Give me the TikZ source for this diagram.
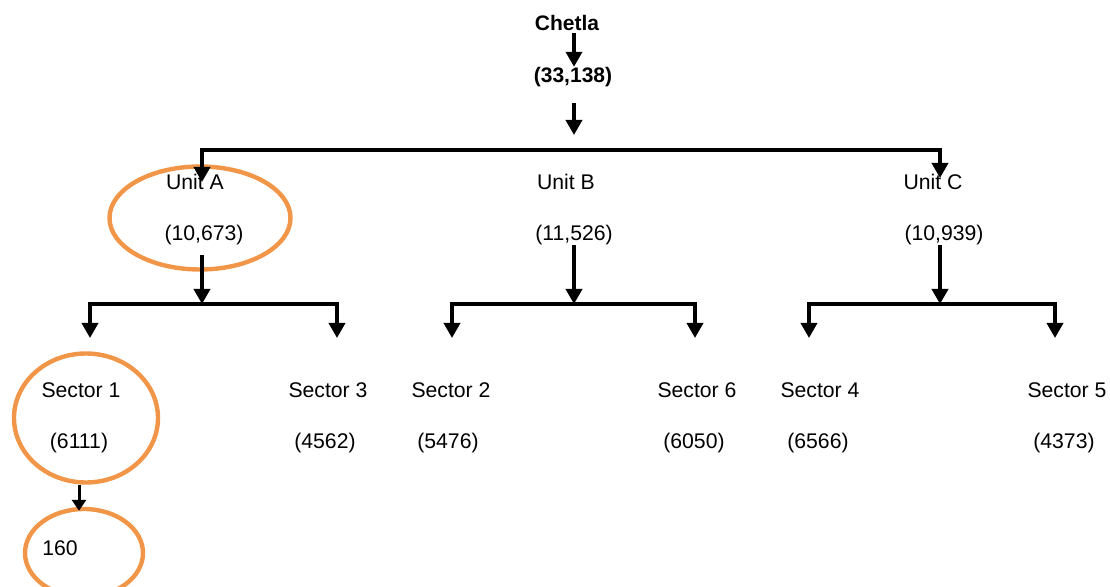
\documentclass[tikz,border=0pt]{standalone}
\usepackage{fontspec}
\setmainfont{Liberation Sans}
\usetikzlibrary{arrows.meta,shapes.geometric}

\definecolor{ringorange}{RGB}{241,150,72}

\begin{document}
\begin{tikzpicture}[x=0.5pt, y=-0.5pt,
    every node/.style={inner sep=0pt, font=\fontsize{10.6}{13}\selectfont},
    arr/.style={line width=1.8pt, -{Triangle[width=8pt,length=7.5pt]}},
    twoarr/.style={line width=1.8pt, {Triangle[width=8pt,length=7.5pt]}-{Triangle[width=8pt,length=7.5pt]}},
    ring/.style={draw=ringorange, line width=2.2pt, ellipse}]

\useasboundingbox (0,0) rectangle (1110,587);

% nodes ---
\node[font=\fontsize{10.5}{13}\selectfont\bfseries] (chetla) at (567,23) {Chetla};
\node[font=\fontsize{10.5}{13}\selectfont\bfseries] (total) at (573,77) {(33,138)};

\node (unitA) at (195,182) {Unit A};
\node (valA) at (204,235) {(10,673)};
\node (unitB) at (566,182) {Unit B};
\node (valB) at (574,235) {(11,526)};
\node (unitC) at (933,182) {Unit C};
\node (valC) at (944,235) {(10,939)};

\node (sec1) at (81,390) {Sector 1};
\node (sec1val) at (79,443) {(6111)};
\node (sec3) at (328,390) {Sector 3};
\node (sec3val) at (325,443) {(4562)};
\node (sec2) at (451,390) {Sector 2};
\node (sec2val) at (448,443) {(5476)};
\node (sec6) at (697,390) {Sector 6};
\node (sec6val) at (694,443) {(6050)};
\node (sec4) at (820,390) {Sector 4};
\node (sec4val) at (818,443) {(6566)};
\node (sec5) at (1067,390) {Sector 5};
\node (sec5val) at (1064,443) {(4373)};

\node (n160) at (60,548) {160};

% orange rings ---
\node[ring, minimum width=90.5pt, minimum height=51.5pt] (ringA) at (200,218) {};
\node[ring, minimum width=72pt, minimum height=64.5pt] (ring1) at (86,418) {};
\node[ring, minimum width=59pt, minimum height=44pt] (ring160) at (84,553) {};

% top level ---
\coordinate (topin) at (574,135);
\coordinate (busL) at (202,150);
\coordinate (busR) at (940,150);
\coordinate (dropA) at (202,182);
\coordinate (dropC) at (940,178);

\draw[arr, shorten <=1pt] (chetla.south -| topin) -- (total.north -| topin);
\draw[arr, shorten <=8pt] (total.south -| topin) -- (topin);
\draw[twoarr] (dropA) -- (busL) -- (busR) -- (dropC);

% unit A ---
\coordinate (jA) at (202,304);
\coordinate (a1) at (90,304);  \coordinate (a1tip) at (90,338);
\coordinate (a3) at (337,304); \coordinate (a3tip) at (337,338);
\draw[arr, shorten <=5pt] (valA.south -| jA) -- (jA);
\draw[twoarr] (a1tip) -- (a1) -- (a3) -- (a3tip);

% unit B ---
\coordinate (jB) at (574,304);
\coordinate (b2) at (452,304); \coordinate (b2tip) at (452,338);
\coordinate (b6) at (695,304); \coordinate (b6tip) at (695,338);
\draw[arr] (valB.south -| jB) -- (jB);
\draw[twoarr] (b2tip) -- (b2) -- (b6) -- (b6tip);

% unit C ---
\coordinate (jC) at (940,304);
\coordinate (c4) at (809,304);  \coordinate (c4tip) at (809,338);
\coordinate (c5) at (1055,304); \coordinate (c5tip) at (1055,338);
\draw[arr] (valC.south -| jC) -- (jC);
\draw[twoarr] (c4tip) -- (c4) -- (c5) -- (c5tip);

% sector 1 down ---
\draw[line width=1.5pt, -{Triangle[width=7pt,length=5.5pt]}] (ring1.south -| sec1val.south) -- ([yshift=-2pt]ring160.north -| sec1val.south);

\end{tikzpicture}
\end{document}
